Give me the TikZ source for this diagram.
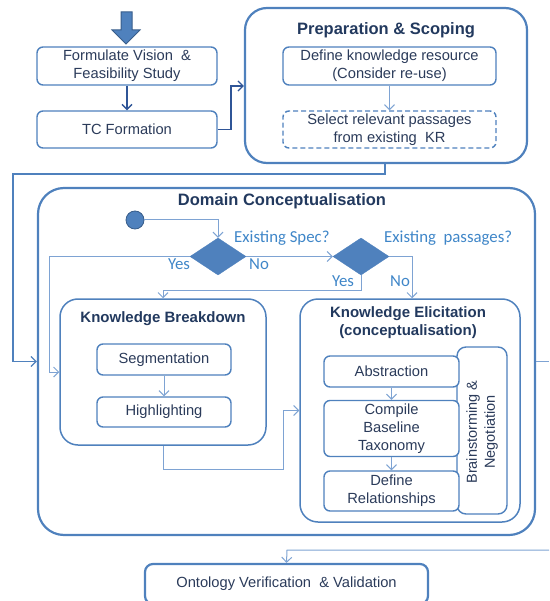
\documentclass[tikz,border=0pt]{standalone}
\usepackage{fontspec}
\setmainfont{Liberation Sans}
\newfontfamily\labfont{Carlito}
\usetikzlibrary{arrows.meta,shapes.geometric}
\definecolor{obox}{HTML}{4F81BD}
\definecolor{odark}{HTML}{385D8A}
\definecolor{otext}{HTML}{2B3B5A}
\definecolor{otitle}{HTML}{22395E}
\definecolor{olab}{HTML}{3F86C8}
\definecolor{olight}{HTML}{7EA3D3}
\definecolor{oconn}{HTML}{2F5597}
\tikzset{
  box/.style={draw=obox, line width=1.4pt, rounded corners=6pt, fill=white, text=otext, align=center, inner sep=0pt, font=\fontsize{14.7}{18}\selectfont},
  bigbox/.style={draw=obox, line width=2.2pt, rounded corners=22pt, inner sep=0pt},
  midbox/.style={draw=obox, line width=1.5pt, rounded corners=18pt, inner sep=0pt},
  ttl/.style={text=otitle, font=\fontsize{16.5}{19}\selectfont\bfseries, align=center, inner sep=0pt},
  sttl/.style={text=otitle, font=\fontsize{15}{18.5}\selectfont\bfseries, align=center, inner sep=0pt},
  lab/.style={text=olab, font=\labfont\fontsize{16.8}{19}\selectfont, inner sep=0pt},
  dia/.style={diamond, fill=obox, draw=obox, minimum width=56pt, minimum height=37pt, inner sep=0pt},
  conn/.style={draw=olight, line width=1pt, -{Straight Barb[length=5pt,width=10pt]}},
  dconn/.style={draw=oconn, line width=1.3pt, -{Straight Barb[length=5pt,width=10pt]}},
  mconn/.style={draw=obox, line width=1.3pt, -{Straight Barb[length=5pt,width=10pt]}},
}
\begin{document}
\begin{tikzpicture}[x=1pt,y=-1pt]
\useasboundingbox (0,0) rectangle (549,601);
\clip (0,0) rectangle (549,601);
% top thick arrow
\draw[fill=obox, draw=odark, line width=1pt] (121,12) -- (132,12) -- (132,30) -- (140,30) -- (126,44) -- (112,30) -- (121,30) -- cycle;
% left column
\node[box, minimum width=180pt, minimum height=38pt] (fv) at (127,66) {Formulate Vision \ \&\\Feasibility Study};
\node[box, minimum width=180pt, minimum height=37pt] (tc) at (127,129.5) {TC Formation};
% preparation
\node[bigbox, minimum width=282pt, minimum height=155pt] (prep) at (386,85.5) {};
\node[ttl] (prept) at (386,30) {Preparation \& Scoping};
\node[box, minimum width=213pt, minimum height=38pt] (def) at (389.5,66) {Define knowledge resource\\(Consider re-use)};
\node[box, dashed, dash pattern=on 5pt off 3pt, minimum width=213pt, minimum height=37pt] (sel) at (389.5,129.5) {Select relevant passages\\from existing \ KR};
% domain
\node[bigbox, rounded corners=26pt, minimum width=497pt, minimum height=347pt] (dom) at (286.5,361.5) {};
\node[ttl] (domt) at (282,201) {Domain Conceptualisation};
\node[circle, fill=obox, draw=odark, line width=0.8pt, minimum size=18pt, inner sep=0pt] (start) at (135,220) {};
\node[dia] (d1) at (218,256.5) {};
\node[dia] (d2) at (361,256.5) {};
\node[lab, anchor=west] (l1) at (234,238) {Existing Spec?};
\node[lab, anchor=west] (l2) at (384,238) {Existing \ passages?};
\node[lab] (y1) at (179,264) {Yes};
\node[lab] (n1) at (259,264) {No};
\node[lab] (y2) at (343,281) {Yes};
\node[lab] (n2) at (400,281) {No};
% knowledge breakdown
\node[midbox, minimum width=206pt, minimum height=146pt] (kb) at (163,372) {};
\node[sttl] (kbt) at (163,319) {Knowledge Breakdown};
\node[box, minimum width=134pt, minimum height=31pt] (seg) at (164,359.5) {Segmentation};
\node[box, minimum width=134pt, minimum height=30pt] (hi) at (164,412) {Highlighting};
% knowledge elicitation
\node[midbox, minimum width=220pt, minimum height=223pt] (ke) at (410,410.5) {};
\node[sttl] (ket) at (408,322.5) {Knowledge Elicitation\\(conceptualisation)};
\node[box, rounded corners=9pt, minimum width=50pt, minimum height=167pt] (bn) at (482,430.5) {};
\node[text=otext, rotate=90, align=center, inner sep=0pt, font=\fontsize{14.5}{18}\selectfont] (bnt) at (482,432) {Brainstorming \&\\Negotiation};
\node[box, minimum width=135pt, minimum height=31pt] (abs) at (391.5,371.5) {Abstraction};
\node[box, minimum width=135pt, minimum height=56pt] (cbt) at (391.5,428.5) {Compile\\Baseline\\Taxonomy};
\node[box, minimum width=135pt, minimum height=40pt] (dr) at (391.5,491) {Define\\Relationships};
% ontology
\node[bigbox, rounded corners=8pt, minimum width=283pt, minimum height=40pt] (ont) at (286.5,584) {};
\node[text=otext, inner sep=0pt, font=\fontsize{14.7}{18}\selectfont] (ontt) at (286.5,584) {Ontology Verification \ \& Validation};
% coordinates
\coordinate (c1) at (231,86);
\coordinate (c2) at (385,174);
\coordinate (c3) at (13,174);
\coordinate (c4) at (218,220);
\coordinate (c5) at (49,256.5);
\coordinate (c6) at (361,290);
\coordinate (c7) at (163,290);
\coordinate (c8) at (412,256.5);
\coordinate (c9) at (163,469);
\coordinate (c10) at (283,469);
\coordinate (e1) at (549,361.5);
\coordinate (e2) at (549,550);
\coordinate (c11) at (287,550);
% connectors
\draw[dconn] (fv.south) -- (tc.north);
\draw[dconn] (tc.east) -| (c1) -- (c1 -| prep.west);
\draw[conn] (def.south) -- (sel.north);
\draw[mconn] (c2 |- prep.south) -- (c2) -- (c3) |- (dom.west);
\draw[conn] (start.east) -- (c4) -- (d1.north);
\draw[conn] (d1.west) -- (c5) |- (kb.west);
\draw[conn] (d1.east) -- (d2.west);
\draw[conn] (d2.east) -- (c8) -- (c8 |- ke.north);
\draw[conn] (d2.south) -- (c6) -- (c7) -- (kb.north);
\draw[conn] (seg.south) -- (hi.north);
\draw[conn] (kb.south) -- (c9) -- (c10) |- (ke.west);
\draw[conn] (abs.south) -- (cbt.north);
\draw[conn] (cbt.south) -- (dr.north);
\draw[draw=olight, line width=1pt] (dom.east) -- (e1);
\draw[conn] (e2) -- (c11) -- (ont.north);
\end{tikzpicture}
\end{document}
